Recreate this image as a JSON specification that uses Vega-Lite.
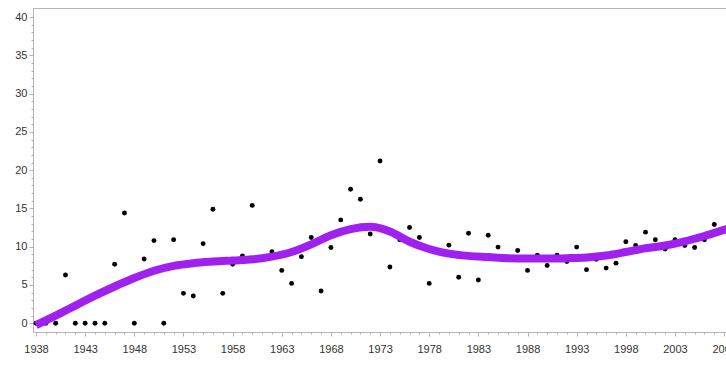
{
  "$schema": "https://vega.github.io/schema/vega-lite/v6.json",
  "width": 693,
  "height": 324,
  "autosize": {"type": "none"},
  "padding": {"left": 33, "top": 8, "right": 0, "bottom": 40},
  "background": "white",
  "config": {
    "view": {"stroke": null},
    "axis": {
      "labelFont": "Liberation Sans",
      "labelFontSize": 11,
      "labelColor": "#333333",
      "domainColor": "#b4b4b4",
      "tickColor": "#b4b4b4",
      "grid": false,
      "title": null
    }
  },
  "datasets": {
    "points": [
      {"year": 1938, "value": 0}, {"year": 1939, "value": 0}, {"year": 1940, "value": 0},
      {"year": 1941, "value": 6.3}, {"year": 1942, "value": 0}, {"year": 1943, "value": 0},
      {"year": 1944, "value": 0}, {"year": 1945, "value": 0}, {"year": 1946, "value": 7.7},
      {"year": 1947, "value": 14.4}, {"year": 1948, "value": 0}, {"year": 1949, "value": 8.4},
      {"year": 1950, "value": 10.8}, {"year": 1951, "value": 0}, {"year": 1952, "value": 10.9},
      {"year": 1953, "value": 3.9}, {"year": 1954, "value": 3.55}, {"year": 1955, "value": 10.4},
      {"year": 1956, "value": 14.9}, {"year": 1957, "value": 3.9}, {"year": 1958, "value": 7.7},
      {"year": 1959, "value": 8.8}, {"year": 1960, "value": 15.4}, {"year": 1961, "value": 8.4},
      {"year": 1962, "value": 9.35}, {"year": 1963, "value": 6.9}, {"year": 1964, "value": 5.2},
      {"year": 1965, "value": 8.7}, {"year": 1966, "value": 11.2}, {"year": 1967, "value": 4.2},
      {"year": 1968, "value": 9.9}, {"year": 1969, "value": 13.5}, {"year": 1970, "value": 17.5},
      {"year": 1971, "value": 16.2}, {"year": 1972, "value": 11.65}, {"year": 1973, "value": 21.2},
      {"year": 1974, "value": 7.35}, {"year": 1975, "value": 10.9}, {"year": 1976, "value": 12.5},
      {"year": 1977, "value": 11.2}, {"year": 1978, "value": 5.2}, {"year": 1979, "value": 9.4},
      {"year": 1980, "value": 10.2}, {"year": 1981, "value": 6.0}, {"year": 1982, "value": 11.75},
      {"year": 1983, "value": 5.65}, {"year": 1984, "value": 11.5}, {"year": 1985, "value": 9.95},
      {"year": 1986, "value": 8.6}, {"year": 1987, "value": 9.5}, {"year": 1988, "value": 6.9},
      {"year": 1989, "value": 8.9}, {"year": 1990, "value": 7.55}, {"year": 1991, "value": 8.9},
      {"year": 1992, "value": 8.05}, {"year": 1993, "value": 9.95}, {"year": 1994, "value": 7.0},
      {"year": 1995, "value": 8.35}, {"year": 1996, "value": 7.2}, {"year": 1997, "value": 7.85},
      {"year": 1998, "value": 10.65}, {"year": 1999, "value": 10.15}, {"year": 2000, "value": 11.9},
      {"year": 2001, "value": 10.9}, {"year": 2002, "value": 9.7}, {"year": 2003, "value": 10.9},
      {"year": 2004, "value": 10.15}, {"year": 2005, "value": 9.9}, {"year": 2006, "value": 10.9},
      {"year": 2007, "value": 12.9}, {"year": 2008, "value": 12.2}
    ],
    "curve": [
      {"year": 1938, "value": -0.25}, {"year": 1940, "value": 1.0}, {"year": 1942, "value": 2.3},
      {"year": 1944, "value": 3.6}, {"year": 1946, "value": 4.8}, {"year": 1948, "value": 5.9},
      {"year": 1950, "value": 6.85}, {"year": 1952, "value": 7.5}, {"year": 1954, "value": 7.85},
      {"year": 1956, "value": 8.05}, {"year": 1958, "value": 8.2}, {"year": 1960, "value": 8.35},
      {"year": 1962, "value": 8.7}, {"year": 1964, "value": 9.3}, {"year": 1966, "value": 10.3},
      {"year": 1968, "value": 11.5}, {"year": 1970, "value": 12.3}, {"year": 1972, "value": 12.6},
      {"year": 1974, "value": 12.0}, {"year": 1976, "value": 10.65}, {"year": 1978, "value": 9.7},
      {"year": 1980, "value": 9.1}, {"year": 1982, "value": 8.8}, {"year": 1984, "value": 8.65},
      {"year": 1986, "value": 8.5}, {"year": 1988, "value": 8.45}, {"year": 1990, "value": 8.45},
      {"year": 1992, "value": 8.5}, {"year": 1994, "value": 8.6}, {"year": 1996, "value": 8.85},
      {"year": 1998, "value": 9.3}, {"year": 2000, "value": 9.8}, {"year": 2002, "value": 10.15},
      {"year": 2004, "value": 10.7}, {"year": 2006, "value": 11.4}, {"year": 2008, "value": 12.2},
      {"year": 2010, "value": 13.0}
    ]
  },
  "layer": [
    {
      "data": {"name": "points"},
      "mark": {"type": "point", "filled": true, "color": "#000000", "opacity": 1, "size": 24, "clip": true},
      "encoding": {
        "x": {
          "field": "year",
          "type": "quantitative",
          "scale": {"domain": [1937.695, 2008.19], "nice": false, "zero": false},
          "axis": {
            "orient": "bottom",
            "values": [1938,1939,1940,1941,1942,1943,1944,1945,1946,1947,1948,1949,1950,1951,1952,1953,1954,1955,1956,1957,1958,1959,1960,1961,1962,1963,1964,1965,1966,1967,1968,1969,1970,1971,1972,1973,1974,1975,1976,1977,1978,1979,1980,1981,1982,1983,1984,1985,1986,1987,1988,1989,1990,1991,1992,1993,1994,1995,1996,1997,1998,1999,2000,2001,2002,2003,2004,2005,2006,2007,2008],
            "format": "d",
            "labelExpr": "(datum.value - 1938) % 5 === 0 ? datum.label : ''",
            "labelOverlap": false,
            "labelFlush": false,
            "labelBound": false,
            "tickSize": {"condition": {"test": "(datum.value - 1938) % 5 === 0", "value": 4}, "value": 2},
            "labelPadding": 7
          }
        },
        "y": {
          "field": "value",
          "type": "quantitative",
          "scale": {"domain": [-1.15, 41.2], "nice": false, "zero": false},
          "axis": {
            "orient": "left",
            "values": [0,1,2,3,4,5,6,7,8,9,10,11,12,13,14,15,16,17,18,19,20,21,22,23,24,25,26,27,28,29,30,31,32,33,34,35,36,37,38,39,40],
            "labelExpr": "datum.value % 5 === 0 ? datum.label : ''",
            "labelOverlap": false,
            "labelFlush": false,
            "tickSize": {"condition": {"test": "datum.value % 5 === 0", "value": 4}, "value": 2},
            "labelPadding": 2
          }
        }
      }
    },
    {
      "data": {"name": "curve"},
      "mark": {"type": "line", "color": "#A020F0", "strokeWidth": 8, "interpolate": "monotone", "strokeCap": "butt", "clip": true},
      "encoding": {
        "x": {
          "field": "year",
          "type": "quantitative",
          "axis": {"orient": "top", "domain": true, "ticks": false, "labels": false, "title": null}
        },
        "y": {
          "field": "value",
          "type": "quantitative",
          "axis": {
            "orient": "left",
            "values": [0,1,2,3,4,5,6,7,8,9,10,11,12,13,14,15,16,17,18,19,20,21,22,23,24,25,26,27,28,29,30,31,32,33,34,35,36,37,38,39,40],
            "labelExpr": "datum.value % 5 === 0 ? datum.label : ''",
            "labelOverlap": false,
            "labelFlush": false,
            "tickSize": {"condition": {"test": "datum.value % 5 === 0", "value": 4}, "value": 2},
            "labelPadding": 2
          }
        }
      }
    }
  ],
  "resolve": {"axis": {"x": "independent"}}
}
